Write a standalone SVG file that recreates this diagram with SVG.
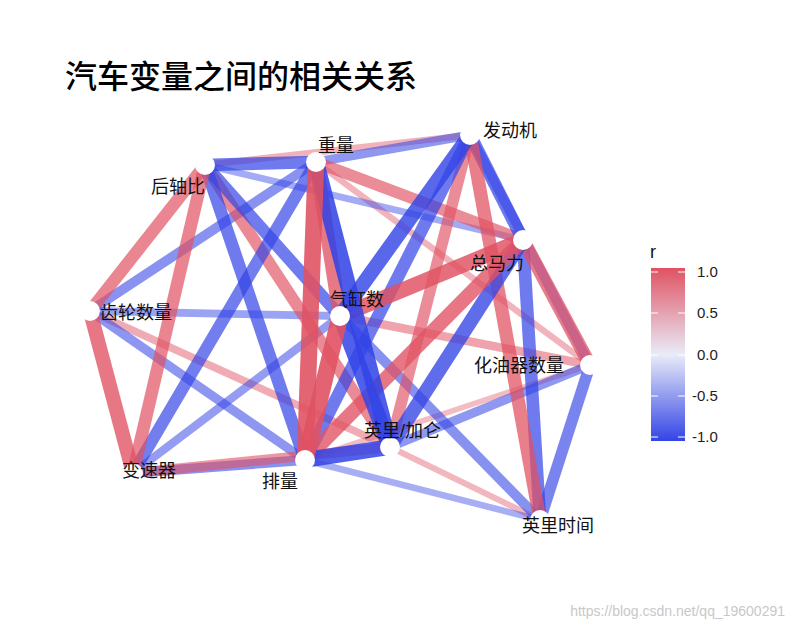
<svg xmlns="http://www.w3.org/2000/svg" width="798" height="629" viewBox="0 0 798 629">
<defs>
<linearGradient id="lg" x1="0" y1="1" x2="0" y2="0">
<stop offset="0" stop-color="#3344E6"/>
<stop offset="0.5" stop-color="#E9ECF8"/>
<stop offset="1" stop-color="#E05263"/>
</linearGradient>
</defs>
<style>
.r{stroke:#E05263;stroke-linecap:butt}
.b{stroke:#3344E6;stroke-linecap:butt}
.n{fill:#fff}
.t{font-family:"Liberation Sans","Noto Sans CJK SC",sans-serif;font-size:18px;fill:#111}
.k{font-family:"Liberation Sans",sans-serif;font-size:15px;fill:#222}
</style>
<rect width="798" height="629" fill="#fff"/>
<text x="65" y="88" style="font-family:'Noto Sans CJK SC',sans-serif;font-size:32px;font-weight:500;fill:#000">汽车变量之间的相关关系</text>
<g id="connectors">
<line class="r" x1="305" y1="460" x2="590" y2="365" stroke-width="5.6" stroke-opacity="0.39"/>
<line class="r" x1="390" y1="447" x2="540" y2="520" stroke-width="6.2" stroke-opacity="0.42"/>
<line class="r" x1="316" y1="162" x2="590" y2="365" stroke-width="6.5" stroke-opacity="0.43"/>
<line class="b" x1="305" y1="460" x2="540" y2="520" stroke-width="6.5" stroke-opacity="0.43"/>
<line class="r" x1="205" y1="165" x2="470" y2="135" stroke-width="6.7" stroke-opacity="0.44"/>
<line class="b" x1="523" y1="240" x2="205" y2="165" stroke-width="6.9" stroke-opacity="0.45"/>
<line class="r" x1="390" y1="447" x2="90" y2="311" stroke-width="7.6" stroke-opacity="0.48"/>
<line class="b" x1="340" y1="316" x2="90" y2="311" stroke-width="7.8" stroke-opacity="0.49"/>
<line class="b" x1="340" y1="316" x2="133" y2="473" stroke-width="8.4" stroke-opacity="0.52"/>
<line class="r" x1="340" y1="316" x2="590" y2="365" stroke-width="8.7" stroke-opacity="0.53"/>
<line class="b" x1="390" y1="447" x2="590" y2="365" stroke-width="9.1" stroke-opacity="0.55"/>
<line class="b" x1="316" y1="162" x2="470" y2="135" stroke-width="9.1" stroke-opacity="0.55"/>
<line class="b" x1="305" y1="460" x2="90" y2="311" stroke-width="9.3" stroke-opacity="0.56"/>
<line class="b" x1="470" y1="135" x2="590" y2="365" stroke-width="9.5" stroke-opacity="0.57"/>
<line class="b" x1="316" y1="162" x2="90" y2="311" stroke-width="9.8" stroke-opacity="0.58"/>
<line class="b" x1="340" y1="316" x2="540" y2="520" stroke-width="10" stroke-opacity="0.59"/>
<line class="b" x1="305" y1="460" x2="133" y2="473" stroke-width="10" stroke-opacity="0.59"/>
<line class="r" x1="390" y1="447" x2="133" y2="473" stroke-width="10.2" stroke-opacity="0.60"/>
<line class="r" x1="390" y1="447" x2="470" y2="135" stroke-width="11.5" stroke-opacity="0.66"/>
<line class="r" x1="523" y1="240" x2="316" y2="162" stroke-width="11.5" stroke-opacity="0.66"/>
<line class="b" x1="540" y1="520" x2="590" y2="365" stroke-width="11.5" stroke-opacity="0.66"/>
<line class="r" x1="390" y1="447" x2="205" y2="165" stroke-width="12" stroke-opacity="0.68"/>
<line class="b" x1="316" y1="162" x2="133" y2="473" stroke-width="12.2" stroke-opacity="0.69"/>
<line class="r" x1="205" y1="165" x2="90" y2="311" stroke-width="12.4" stroke-opacity="0.70"/>
<line class="b" x1="340" y1="316" x2="205" y2="165" stroke-width="12.4" stroke-opacity="0.70"/>
<line class="b" x1="305" y1="460" x2="205" y2="165" stroke-width="12.6" stroke-opacity="0.71"/>
<line class="b" x1="205" y1="165" x2="316" y2="162" stroke-width="12.6" stroke-opacity="0.71"/>
<line class="r" x1="205" y1="165" x2="133" y2="473" stroke-width="12.6" stroke-opacity="0.71"/>
<line class="b" x1="305" y1="460" x2="470" y2="135" stroke-width="12.6" stroke-opacity="0.71"/>
<line class="b" x1="523" y1="240" x2="540" y2="520" stroke-width="12.6" stroke-opacity="0.71"/>
<line class="b" x1="523" y1="240" x2="470" y2="135" stroke-width="12.8" stroke-opacity="0.72"/>
<line class="r" x1="540" y1="520" x2="470" y2="135" stroke-width="13.3" stroke-opacity="0.74"/>
<line class="r" x1="523" y1="240" x2="590" y2="365" stroke-width="13.5" stroke-opacity="0.75"/>
<line class="b" x1="390" y1="447" x2="523" y2="240" stroke-width="14.2" stroke-opacity="0.78"/>
<line class="r" x1="340" y1="316" x2="316" y2="162" stroke-width="14.2" stroke-opacity="0.78"/>
<line class="r" x1="305" y1="460" x2="523" y2="240" stroke-width="14.4" stroke-opacity="0.79"/>
<line class="r" x1="133" y1="473" x2="90" y2="311" stroke-width="14.4" stroke-opacity="0.79"/>
<line class="b" x1="340" y1="316" x2="470" y2="135" stroke-width="14.8" stroke-opacity="0.81"/>
<line class="r" x1="340" y1="316" x2="523" y2="240" stroke-width="15.3" stroke-opacity="0.83"/>
<line class="b" x1="390" y1="447" x2="340" y2="316" stroke-width="15.7" stroke-opacity="0.85"/>
<line class="b" x1="390" y1="447" x2="305" y2="460" stroke-width="15.7" stroke-opacity="0.85"/>
<line class="b" x1="390" y1="447" x2="316" y2="162" stroke-width="16.1" stroke-opacity="0.87"/>
<line class="r" x1="305" y1="460" x2="316" y2="162" stroke-width="16.6" stroke-opacity="0.89"/>
<line class="r" x1="340" y1="316" x2="305" y2="460" stroke-width="16.8" stroke-opacity="0.90"/>
</g>
<g id="mpg"><circle class="n" cx="390" cy="447" r="10"/><text class="t" x="364" y="437">英里/加仑</text></g>
<g id="cyl"><circle class="n" cx="340" cy="316" r="10"/><text class="t" x="330" y="306">气缸数</text></g>
<g id="disp"><circle class="n" cx="305" cy="460" r="10"/><text class="t" x="262" y="488">排量</text></g>
<g id="hp"><circle class="n" cx="523" cy="240" r="10"/><text class="t" x="470" y="270">总马力</text></g>
<g id="drat"><circle class="n" cx="205" cy="165" r="10"/><text class="t" x="151" y="193">后轴比</text></g>
<g id="wt"><circle class="n" cx="316" cy="162" r="10"/><text class="t" x="318" y="152">重量</text></g>
<g id="qsec"><circle class="n" cx="540" cy="520" r="10"/><text class="t" x="522" y="532">英里时间</text></g>
<g id="vs"><circle class="n" cx="470" cy="135" r="10"/><text class="t" x="483" y="137">发动机</text></g>
<g id="am"><circle class="n" cx="133" cy="473" r="10"/><text class="t" x="122" y="477">变速器</text></g>
<g id="gear"><circle class="n" cx="90" cy="311" r="10"/><text class="t" x="100" y="319">齿轮数量</text></g>
<g id="carb"><circle class="n" cx="590" cy="365" r="10"/><text class="t" x="474" y="372">化油器数量</text></g>
<g id="legend">
<text class="t" x="650" y="258">r</text>
<rect x="651" y="268" width="34" height="173" fill="url(#lg)"/>
<g stroke="#fff" stroke-width="1">
<line x1="651" y1="272" x2="658" y2="272"/><line x1="678" y1="272" x2="685" y2="272"/>
<line x1="651" y1="313" x2="658" y2="313"/><line x1="678" y1="313" x2="685" y2="313"/>
<line x1="651" y1="355" x2="658" y2="355"/><line x1="678" y1="355" x2="685" y2="355"/>
<line x1="651" y1="396" x2="658" y2="396"/><line x1="678" y1="396" x2="685" y2="396"/>
<line x1="651" y1="437" x2="658" y2="437"/><line x1="678" y1="437" x2="685" y2="437"/>
</g>
<text class="k" x="697" y="277">1.0</text>
<text class="k" x="697" y="318">0.5</text>
<text class="k" x="697" y="360">0.0</text>
<text class="k" x="692" y="401">-0.5</text>
<text class="k" x="692" y="442">-1.0</text>
</g>
<text x="785" y="616" text-anchor="end" style="font-family:'Liberation Sans',sans-serif;font-size:14px;fill:#c8c8c8">https://blog.csdn.net/qq_19600291</text>
</svg>
